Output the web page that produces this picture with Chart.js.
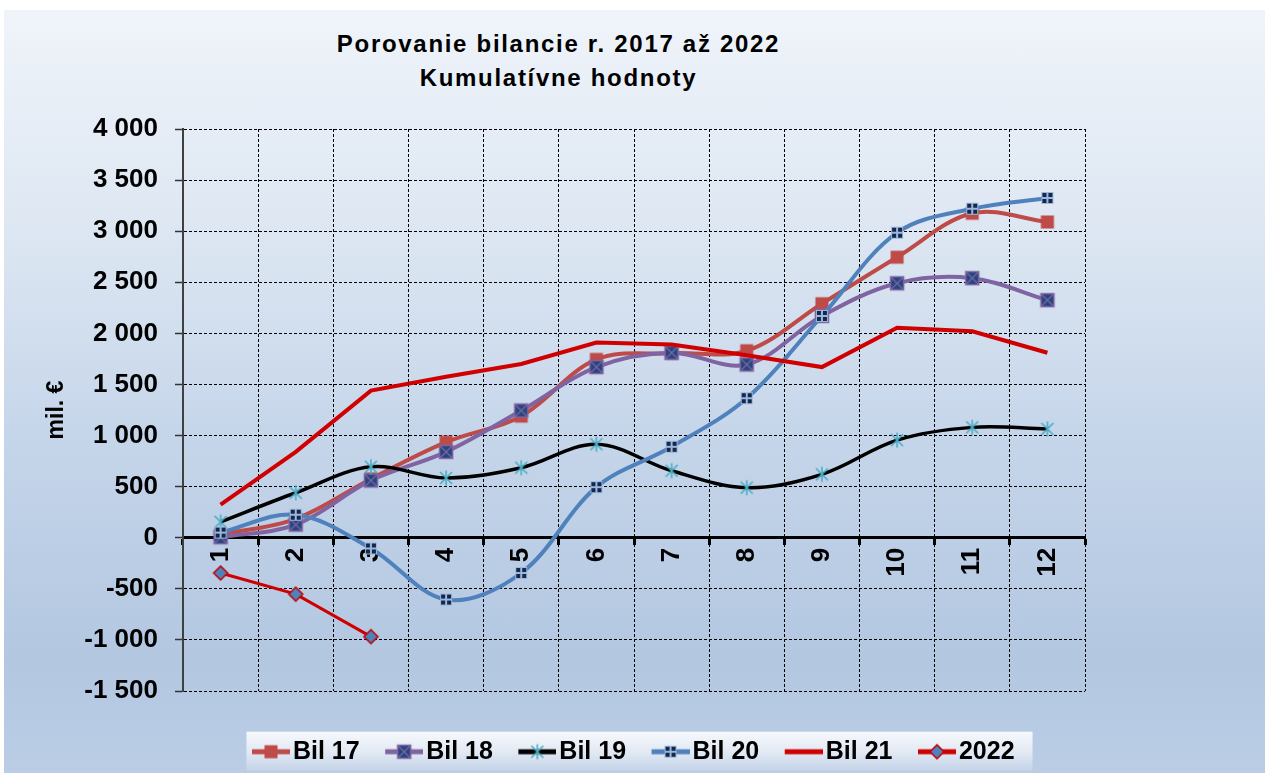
<!DOCTYPE html>
<html><head><meta charset="utf-8">
<script src="https://cdn.jsdelivr.net/npm/chart.js@4.4.0/dist/chart.umd.min.js"></script>
<style>
html,body{margin:0;padding:0;background:#fff;width:1265px;height:773px;overflow:hidden}
#bg{position:absolute;left:4px;top:10px;width:1261px;height:763px;background:linear-gradient(to bottom,#F0F4FA 0%,#DCE6F2 30%,#C6D6EA 55%,#B3C7E1 85%,#BACDE5 100%)}
#title{position:absolute;left:0;top:27px;width:1117px;text-align:center;font:bold 24px "Liberation Sans",Arial,sans-serif;line-height:34px;letter-spacing:1.7px;color:#000}
#wrap{position:absolute;left:0;top:0;width:1265px;height:773px}
</style></head><body>
<div id="bg"></div>
<div id="title">Porovanie bilancie r. 2017 až 2022<br>Kumulatívne hodnoty</div>
<div id="wrap"><canvas id="c" width="1265" height="773"></canvas></div>
<script>
const categories = ['1','2','3','4','5','6','7','8','9','10','11','12'];
const seriesNames = ['Bil 17','Bil 18','Bil 19','Bil 20','Bil 21','2022'];
const bil17 = [30, 185, 575, 935, 1190, 1745, 1805, 1830, 2290, 2745, 3175, 3090];
const bil18 = [5, 128, 560, 840, 1245, 1670, 1810, 1695, 2170, 2490, 2540, 2325];
const bil19 = [155, 440, 695, 585, 685, 915, 655, 490, 620, 955, 1080, 1065];
const bil20 = [50, 225, -105, -605, -345, 495, 890, 1365, 2170, 2985, 3220, 3325];
const bil21 = [325, 840, 1440, 1575, 1700, 1910, 1890, 1785, 1670, 2055, 2020, 1810];
const y2022 = [-345, -552, -968];
const yMin = -1500, yMax = 4000, yStep = 500;

const FONT = '"Liberation Sans", Arial, sans-serif';

function mk(w, h, draw) {
  const c = document.createElement('canvas');
  c.width = w; c.height = h;
  draw(c.getContext('2d'), w, h);
  return c;
}
const markers = {
  sq17(x, cx, cy) { x.fillStyle = '#BE4B48'; x.fillRect(cx - 6.5, cy - 6.5, 13, 13); },
  sq18(x, cx, cy) {
    x.fillStyle = '#24467F'; x.fillRect(cx - 6.5, cy - 6.5, 13, 13);
    x.strokeStyle = '#8064A2'; x.lineWidth = 1.5; x.strokeRect(cx - 6.5, cy - 6.5, 13, 13);
    x.beginPath(); x.moveTo(cx - 6, cy - 6); x.lineTo(cx + 6, cy + 6); x.moveTo(cx + 6, cy - 6); x.lineTo(cx - 6, cy + 6);
    x.lineWidth = 1.3; x.stroke();
  },
  star(x, cx, cy) {
    x.strokeStyle = '#4BACC6'; x.lineWidth = 1.6; x.beginPath();
    x.moveTo(cx, cy - 7.5); x.lineTo(cx, cy + 7.5);
    x.moveTo(cx - 6, cy - 6); x.lineTo(cx + 6, cy + 6);
    x.moveTo(cx + 6, cy - 6); x.lineTo(cx - 6, cy + 6); x.stroke();
  },
  plus(x, cx, cy) {
    x.fillStyle = '#9BB7DE'; x.fillRect(cx - 6, cy - 6, 12, 12);
    x.fillStyle = '#15284A';
    x.fillRect(cx - 5, cy - 5, 4, 4); x.fillRect(cx + 1, cy - 5, 4, 4);
    x.fillRect(cx - 5, cy + 1, 4, 4); x.fillRect(cx + 1, cy + 1, 4, 4);
  },
  none() {},
  diamond(x, cx, cy) {
    x.beginPath(); x.moveTo(cx, cy - 7); x.lineTo(cx + 7, cy); x.lineTo(cx, cy + 7); x.lineTo(cx - 7, cy); x.closePath();
    x.fillStyle = '#4F81BD'; x.fill(); x.strokeStyle = '#C00000'; x.lineWidth = 1.5; x.stroke();
  }
};
const markerKeys = ['sq17', 'sq18', 'star', 'plus', 'none', 'diamond'];
const lineColors = ['#BE4B48', '#8064A2', '#000000', '#4F81BD', '#D00000', '#D00000'];
const lineWidths = [4, 4, 3.5, 4, 4, 3];

const pointImgs = markerKeys.map(k => mk(18, 18, (x) => markers[k](x, 9, 9)));
const legendImgs = markerKeys.map((k, i) => mk(49, 18, (x) => {
  x.strokeStyle = lineColors[i]; x.lineWidth = 5; x.beginPath(); x.moveTo(11, 9); x.lineTo(49, 9); x.stroke();
  markers[k](x, 30, 9);
}));

const allData = [bil17, bil18, bil19, bil20, bil21, y2022];
const tensions = [0.35, 0.35, 0.35, 0.35, 0, 0];

const datasets = allData.map((d, i) => ({
  label: seriesNames[i],
  data: d,
  borderColor: lineColors[i],
  backgroundColor: lineColors[i],
  borderWidth: lineWidths[i],
  tension: tensions[i],
  pointStyle: markerKeys[i] === 'none' ? false : pointImgs[i],
  pointRadius: markerKeys[i] === 'none' ? 0 : 8,
  order: -i,
  fill: false
}));

function fmt(v) {
  const s = String(Math.abs(v)).replace(/\B(?=(\d{3})+(?!\d))/g, ' ');
  return (v < 0 ? '-' : '') + s;
}

const legendBg = {
  id: 'legendBg',
  beforeDraw(chart) {
    const lg = chart.legend;
    if (!lg || !lg.legendHitBoxes || !lg.legendHitBoxes.length) return;
    const hb = lg.legendHitBoxes;
    let l = Infinity, r = -Infinity, cy = 0;
    hb.forEach(b => { l = Math.min(l, b.left); r = Math.max(r, b.left + b.width); cy = b.top + b.height / 2; });
    const x0 = l - 4, x1 = r + 18, y0 = cy - 20, y1 = cy + 19;
    const ctx = chart.ctx;
    const g = ctx.createLinearGradient(0, y0, 0, y1);
    g.addColorStop(0, '#F6F8FC'); g.addColorStop(0.5, '#E3EAF4'); g.addColorStop(1, '#C5D4E9');
    ctx.save(); ctx.fillStyle = g; ctx.fillRect(x0, y0, x1 - x0, y1 - y0); ctx.restore();
  }
};

new Chart(document.getElementById('c'), {
  type: 'line',
  data: { labels: categories, datasets },
  plugins: [legendBg],
  options: {
    responsive: false,
    animation: false,
    devicePixelRatio: 1,
    layout: { padding: { top: 129, right: 0, left: 0, bottom: 0 } },
    plugins: {
      tooltip: { enabled: false },
      title: { display: false },
      legend: {
        position: 'bottom',
        maxHeight: 82,
        title: { display: true, text: '', font: { size: 1 }, padding: { top: 23, bottom: 0 } },
        labels: {
          usePointStyle: true, pointStyleWidth: 30, boxHeight: 18, padding: 24, color: '#000',
          font: { family: FONT, size: 25, weight: 'bold' },
          generateLabels: () => seriesNames.map((n, i) => ({
            text: n, pointStyle: legendImgs[i], fillStyle: 'rgba(0,0,0,0)', strokeStyle: 'rgba(0,0,0,0)',
            lineWidth: 0, hidden: false, datasetIndex: i, fontColor: '#000'
          }))
        }
      }
    },
    scales: {
      x: {
        type: 'category',
        position: { y: 0 },
        offset: true,
        grid: { offset: true, color: '#000', lineWidth: 1, drawTicks: true, tickLength: 6, tickColor: '#000', tickWidth: 3, tickBorderDash: [] },
        border: { display: true, color: '#000', width: 3, dash: [3, 2] },
        ticks: { autoSkip: false, minRotation: 90, maxRotation: 90, padding: 4, color: '#000', font: { family: FONT, size: 26, weight: 'bold' } }
      },
      y: {
        min: yMin, max: yMax,
        ticks: { stepSize: yStep, padding: 17, color: '#000', font: { family: FONT, size: 26, weight: 'bold' }, callback: v => fmt(v) },
        grid: { color: '#000', lineWidth: 1, drawTicks: true, tickLength: 8, tickColor: '#333', tickWidth: 1.5, tickBorderDash: [] },
        border: { display: true, color: '#404040', width: 2, dash: [3, 2] },
        title: { display: true, text: 'mil. €', color: '#000', font: { family: FONT, size: 23, weight: 'bold' }, padding: { top: 43, bottom: 0 } },
        afterFit(s) { s.width = 183; }
      },
      spacer: {
        type: 'linear',
        position: 'right',
        display: true,
        grid: { display: false, drawTicks: false },
        border: { display: false },
        ticks: { display: false },
        title: { display: false },
        afterFit(s) { s.width = 180; }
      }
    }
  }
});
</script>
</body></html>
